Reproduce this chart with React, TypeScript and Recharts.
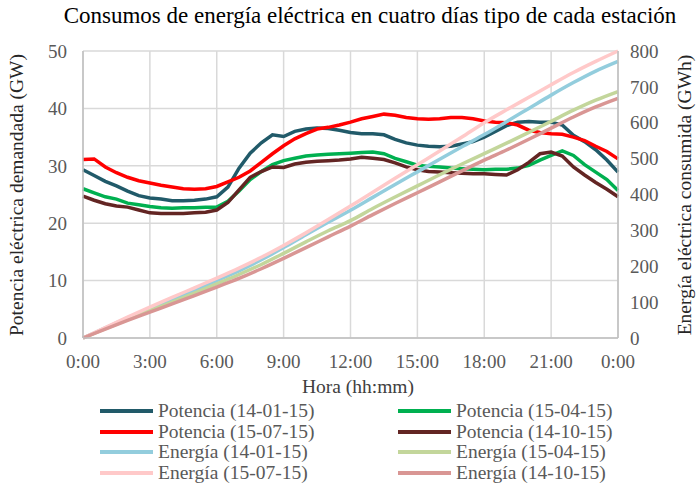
import { CartesianGrid, Line, LineChart, XAxis, YAxis } from "recharts";

// Half-hourly power readings (GW)
const TIMES = [
  "0:00", "0:30", "1:00", "1:30", "2:00", "2:30", "3:00", "3:30", "4:00", "4:30",
  "5:00", "5:30", "6:00", "6:30", "7:00", "7:30", "8:00", "8:30", "9:00", "9:30",
  "10:00", "10:30", "11:00", "11:30", "12:00", "12:30", "13:00", "13:30", "14:00", "14:30",
  "15:00", "15:30", "16:00", "16:30", "17:00", "17:30", "18:00", "18:30", "19:00", "19:30",
  "20:00", "20:30", "21:00", "21:30", "22:00", "22:30", "23:00", "23:30", "24:00",
];

const POT_1401 = [
  29.3, 28.3, 27.3, 26.5, 25.6, 24.8, 24.4, 24.2, 23.9, 23.9,
  24.0, 24.2, 24.6, 26.3, 29.6, 32.2, 34.0, 35.4, 35.1, 36.0,
  36.4, 36.6, 36.5, 36.2, 35.8, 35.6, 35.6, 35.4, 34.6, 34.0,
  33.6, 33.4, 33.3, 33.4, 33.8, 34.2, 35.0, 36.0, 37.0, 37.6,
  37.7, 37.6, 37.6, 37.1, 35.3, 34.2, 32.8, 31.0, 28.9,
];
const POT_1504 = [
  26.0, 25.3, 24.6, 24.2, 23.5, 23.2, 22.9, 22.7, 22.6, 22.7,
  22.7, 22.8, 22.8, 23.8, 25.6, 27.6, 29.0, 30.2, 30.9, 31.3,
  31.7, 31.9, 32.0, 32.1, 32.2, 32.3, 32.4, 32.1, 31.3, 30.7,
  30.1, 29.9, 29.8, 29.6, 29.5, 29.4, 29.3, 29.4, 29.4, 29.6,
  30.1, 31.0, 31.8, 32.6, 31.8, 30.2, 28.9, 27.6, 25.7,
];
const POT_1507 = [
  31.1, 31.2, 29.8, 28.8, 28.0, 27.4, 27.0, 26.6, 26.3, 26.0,
  25.9, 26.0, 26.4, 27.2, 28.0, 29.1, 30.6, 32.1, 33.5, 34.7,
  35.6, 36.4, 36.7, 37.1, 37.6, 38.2, 38.6, 39.0, 38.8, 38.4,
  38.2, 38.1, 38.2, 38.4, 38.4, 38.2, 37.8, 37.6, 37.5, 37.1,
  36.2, 35.8, 35.6, 35.5, 35.0, 34.4, 33.4, 32.5, 31.2,
];
const POT_1410 = [
  24.7, 24.0, 23.4, 23.0, 22.8, 22.3, 21.8, 21.7, 21.7, 21.7,
  21.8, 21.9, 22.3, 23.6, 25.8, 28.0, 29.0, 29.8, 29.7, 30.3,
  30.6, 30.8, 30.9, 31.0, 31.2, 31.5, 31.3, 31.1, 30.5, 29.8,
  29.3, 29.0, 28.9, 28.8, 28.7, 28.6, 28.6, 28.5, 28.4, 29.3,
  30.6, 32.1, 32.4, 31.7, 29.8, 28.4, 27.1, 25.9, 24.6,
];

// Hourly cumulative energy (GWh), 0:00 .. 24:00
const ENE_1401 = [0, 28, 56, 82, 107, 133, 160, 187, 218, 252, 288, 323, 356, 392, 428, 463, 498, 533, 567, 603, 640, 677, 712, 744, 771];
const ENE_1504 = [0, 26, 51, 76, 100, 125, 151, 177, 205, 236, 268, 299, 327, 361, 393, 424, 455, 485, 514, 543, 573, 604, 635, 663, 687];
const ENE_1507 = [0, 29, 58, 86, 113, 140, 167, 195, 225, 258, 293, 330, 368, 406, 445, 483, 521, 560, 600, 636, 671, 706, 740, 771, 800];
const ENE_1410 = [0, 25, 49, 72, 95, 118, 142, 166, 193, 222, 252, 282, 312, 344, 375, 405, 435, 466, 496, 524, 554, 585, 616, 644, 668];

const X_TICKS = [0, 3, 6, 9, 12, 15, 18, 21, 24];
const X_TICK_LABELS = ["0:00", "3:00", "6:00", "9:00", "12:00", "15:00", "18:00", "21:00", "0:00"];
const GW_TICKS = [0, 10, 20, 30, 40, 50];
const GWH_TICKS = [0, 100, 200, 300, 400, 500, 600, 700, 800];

const SERIES = [
  { key: "p1401", name: "Potencia (14-01-15)", color: "#215A69", axis: "gw" },
  { key: "p1504", name: "Potencia (15-04-15)", color: "#00B050", axis: "gw" },
  { key: "p1507", name: "Potencia (15-07-15)", color: "#FF0000", axis: "gw" },
  { key: "p1410", name: "Potencia (14-10-15)", color: "#632523", axis: "gw" },
  { key: "e1401", name: "Energía (14-01-15)", color: "#93CDDD", axis: "gwh" },
  { key: "e1504", name: "Energía (15-04-15)", color: "#C3D69B", axis: "gwh" },
  { key: "e1507", name: "Energía (15-07-15)", color: "#FFC9C9", axis: "gwh" },
  { key: "e1410", name: "Energía (14-10-15)", color: "#D99694", axis: "gwh" },
];

function toHours(t: string): number {
  const [h, m] = t.split(":").map(Number);
  return h + m / 60;
}

const data = TIMES.map((t, i) => {
  const hourly = i % 2 === 0 ? i / 2 : -1;
  return {
    h: toHours(t),
    p1401: POT_1401[i],
    p1504: POT_1504[i],
    p1507: POT_1507[i],
    p1410: POT_1410[i],
    e1401: hourly >= 0 ? ENE_1401[hourly] : null,
    e1504: hourly >= 0 ? ENE_1504[hourly] : null,
    e1507: hourly >= 0 ? ENE_1507[hourly] : null,
    e1410: hourly >= 0 ? ENE_1410[hourly] : null,
  };
});

const FONT = '"Liberation Serif", serif';
const TICK = "#595959";
const GRID = "#D9D9D9";
const AXIS = "#BFBFBF";

export default function App() {
  return (
    <div
      style={{
        position: "absolute",
        left: 0,
        top: 0,
        width: 696,
        height: 487,
        background: "#fff",
        fontFamily: FONT,
      }}
    >
      <div
        style={{
          position: "absolute",
          left: 0,
          width: 740,
          top: 3,
          textAlign: "center",
          fontSize: 23,
          color: "#000",
          whiteSpace: "nowrap",
        }}
      >
        Consumos de energía eléctrica en cuatro días tipo de cada estación
      </div>

      <LineChart width={696} height={487} data={data} margin={{ top: 51, right: 0, bottom: 119, left: 0 }}>
        <CartesianGrid yAxisId="gw" stroke={GRID} strokeWidth={1.5} horizontalValues={GW_TICKS} verticalValues={X_TICKS} />
        <XAxis
          dataKey="h"
          type="number"
          domain={[0, 24]}
          ticks={X_TICKS}
          tickFormatter={(v: number) => X_TICK_LABELS[X_TICKS.indexOf(v)]}
          stroke={AXIS}
          strokeWidth={1.5}
          tickLine={false}
          tickSize={0}
          tickMargin={17}
          height={30}
          tick={{ fill: TICK, fontSize: 19, fontFamily: FONT }}
        />
        <YAxis
          yAxisId="gw"
          domain={[0, 50]}
          ticks={GW_TICKS}
          width={83}
          stroke={AXIS}
          strokeWidth={1.5}
          tickLine={false}
          tickSize={0}
          tickMargin={16}
          tick={{ fill: TICK, fontSize: 19, fontFamily: FONT }}
        />
        <YAxis
          yAxisId="gwh"
          orientation="right"
          domain={[0, 800]}
          ticks={GWH_TICKS}
          width={78}
          stroke={AXIS}
          strokeWidth={1.5}
          tickLine={false}
          tickSize={0}
          tickMargin={12}
          tick={{ fill: TICK, fontSize: 19, fontFamily: FONT }}
        />
        {SERIES.map((s) => (
          <Line
            key={s.key}
            yAxisId={s.axis}
            dataKey={s.key}
            name={s.name}
            stroke={s.color}
            strokeWidth={s.axis === "gw" ? 3.5 : 3.5}
            type={s.axis === "gw" ? "linear" : "monotone"}
            dot={false}
            connectNulls
            isAnimationActive={false}
          />
        ))}
      </LineChart>

      <div
        style={{
          position: "absolute",
          left: 17 - 150,
          top: 195 - 12,
          width: 300,
          height: 24,
          lineHeight: "24px",
          textAlign: "center",
          transform: "rotate(-90deg)",
          fontSize: 19.5,
          color: "#262626",
          whiteSpace: "nowrap",
        }}
      >
        Potencia eléctrica demandada (GW)
      </div>
      <div
        style={{
          position: "absolute",
          left: 685 - 150,
          top: 195 - 12,
          width: 300,
          height: 24,
          lineHeight: "24px",
          textAlign: "center",
          transform: "rotate(-90deg)",
          fontSize: 19.5,
          color: "#262626",
          whiteSpace: "nowrap",
        }}
      >
        Energía eléctrica consumida (GWh)
      </div>
      <div
        style={{
          position: "absolute",
          left: 250,
          width: 216,
          top: 376,
          textAlign: "center",
          fontSize: 19.5,
          color: "#404040",
        }}
      >
        Hora (hh:mm)
      </div>

      {SERIES.map((s, i) => (
        <div
          key={s.key}
          style={{
            position: "absolute",
            left: i % 2 === 0 ? 100 : 398,
            top: 401 + Math.floor(i / 2) * 20.6,
            height: 20,
            display: "flex",
            alignItems: "center",
            fontSize: 19.5,
            color: TICK,
            whiteSpace: "nowrap",
          }}
        >
          <svg width={58} height={20}>
            <line x1={0} x2={53} y1={10} y2={10} stroke={s.color} strokeWidth={4} />
          </svg>
          {s.name}
        </div>
      ))}
    </div>
  );
}
